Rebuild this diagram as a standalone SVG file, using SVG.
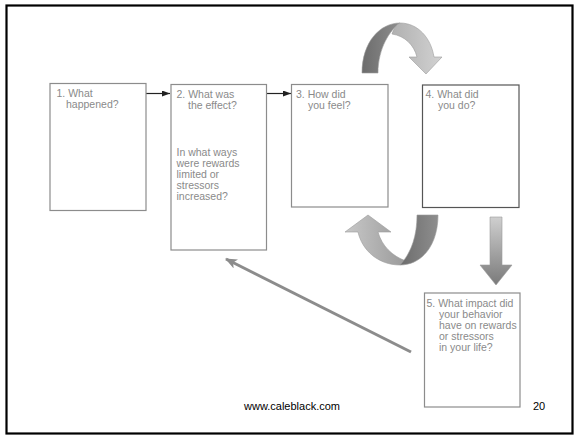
<svg xmlns="http://www.w3.org/2000/svg" width="576" height="435" viewBox="0 0 576 435">
<defs>
<style>
.box{fill:#fff;stroke:#8c8c8c;stroke-width:1.2}
.box4{fill:#fff;stroke:#555;stroke-width:1.2}
.t{font-family:"Liberation Sans",Arial,sans-serif;font-size:10.5px;fill:#8a8a8a}
.foot{font-family:"Liberation Sans",Arial,sans-serif;font-size:11px;fill:#000}
.blk{stroke:#222;stroke-width:1.2;fill:none}
.gry{stroke:#8c8c8c;stroke-width:3;fill:none}
.rib{stroke:#9a9a9a;stroke-width:0.6}
</style>
<marker id="ah" markerWidth="8" markerHeight="6" refX="8" refY="3" orient="auto" markerUnits="userSpaceOnUse">
<path d="M0,0 L8,3 L0,6 Z" fill="#222"/>
</marker>
<marker id="ahg" markerWidth="12" markerHeight="10" refX="11" refY="5" orient="auto" markerUnits="userSpaceOnUse">
<path d="M0,0 L12,5 L0,10 L3,5 Z" fill="#8c8c8c"/>
</marker>
<linearGradient id="dark" x1="0" y1="0" x2="1" y2="0">
<stop offset="0" stop-color="#6c6c6c"/>
<stop offset="1" stop-color="#8e8e8e"/>
</linearGradient>
<linearGradient id="light" x1="0" y1="0" x2="1" y2="0">
<stop offset="0" stop-color="#c8c8c8"/>
<stop offset="1" stop-color="#9a9a9a"/>
</linearGradient>
<linearGradient id="light2" x1="0" y1="0" x2="1" y2="0">
<stop offset="0" stop-color="#b0b0b0"/>
<stop offset="1" stop-color="#d2d2d2"/>
</linearGradient>
<linearGradient id="vert" x1="0" y1="0" x2="0" y2="1">
<stop offset="0" stop-color="#cfcfcf"/>
<stop offset="1" stop-color="#7a7a7a"/>
</linearGradient>
</defs>
<rect x="0" y="0" width="576" height="435" fill="#fff"/>
<rect x="6.5" y="5.5" width="566" height="428" fill="none" stroke="#000" stroke-width="2.2"/>

<g id="connectors">
<line class="blk" x1="146" y1="93.5" x2="170" y2="93.5" marker-end="url(#ah)"/>
<line class="blk" x1="267" y1="93.5" x2="291" y2="93.5" marker-end="url(#ah)"/>
<line class="gry" x1="411" y1="352" x2="226" y2="259" marker-end="url(#ahg)"/>
<g id="arc-top">
<path class="rib" fill="url(#dark)" d="M362,73 C362,42 380,23 400,23 C390,30 378,48 378,73 Z"/>
<path class="rib" fill="url(#light2)" d="M400,23 C418,23 431,38 434,57 L442,57 L426,74 L409,57 L417,57 C414,45 405,36 392,34 C394,28 397,24 400,23 Z"/>
</g>
<g id="arc-bottom">
<path class="rib" fill="url(#light)" d="M400,265 C378,265 362,250 358,232 L345,232 L368,215 L391,232 L378,232 C382,246 392,256 406,261 Z"/>
<path class="rib" fill="url(#dark)" d="M417,215 L438,215 C438,245 422,265 400,265 C412,252 417,235 417,215 Z"/>
</g>
<path id="arrow-down" class="rib" fill="url(#vert)" d="M490,217 L502,217 L502,265 L512,265 L496,285 L480,265 L490,265 Z"/>
</g>

<g id="node1">
<rect class="box" x="50" y="83.5" width="96" height="127"/>
<text class="t" x="56.5" y="97">1. What</text>
<text class="t" x="66" y="108">happened?</text>
</g>
<g id="node2">
<rect class="box" x="171" y="84.5" width="95.5" height="165.5"/>
<text class="t" x="176.5" y="97.5">2. What was</text>
<text class="t" x="188" y="108.5">the effect?</text>
<text class="t" x="176.5" y="156">In what ways</text>
<text class="t" x="176.5" y="167">were rewards</text>
<text class="t" x="176.5" y="178">limited or</text>
<text class="t" x="176.5" y="189">stressors</text>
<text class="t" x="176.5" y="200">increased?</text>
</g>
<g id="node3">
<rect class="box" x="291.5" y="84.5" width="96.5" height="122.5"/>
<text class="t" x="296" y="97.5">3. How did</text>
<text class="t" x="308" y="108.5">you feel?</text>
</g>
<g id="node4">
<rect class="box4" x="422.5" y="85" width="96.5" height="122.5"/>
<text class="t" x="425.5" y="98">4. What did</text>
<text class="t" x="438" y="109">you do?</text>
</g>
<g id="node5">
<rect class="box" x="424.5" y="293" width="95.5" height="114"/>
<text class="t" x="426.5" y="307">5. What impact did</text>
<text class="t" x="439" y="318">your behavior</text>
<text class="t" x="439" y="329">have on rewards</text>
<text class="t" x="439" y="340">or stressors</text>
<text class="t" x="439" y="351">in your life?</text>
</g>
<text class="foot" x="244" y="409.5">www.caleblack.com</text>
<text class="foot" x="533" y="410">20</text>
</svg>
